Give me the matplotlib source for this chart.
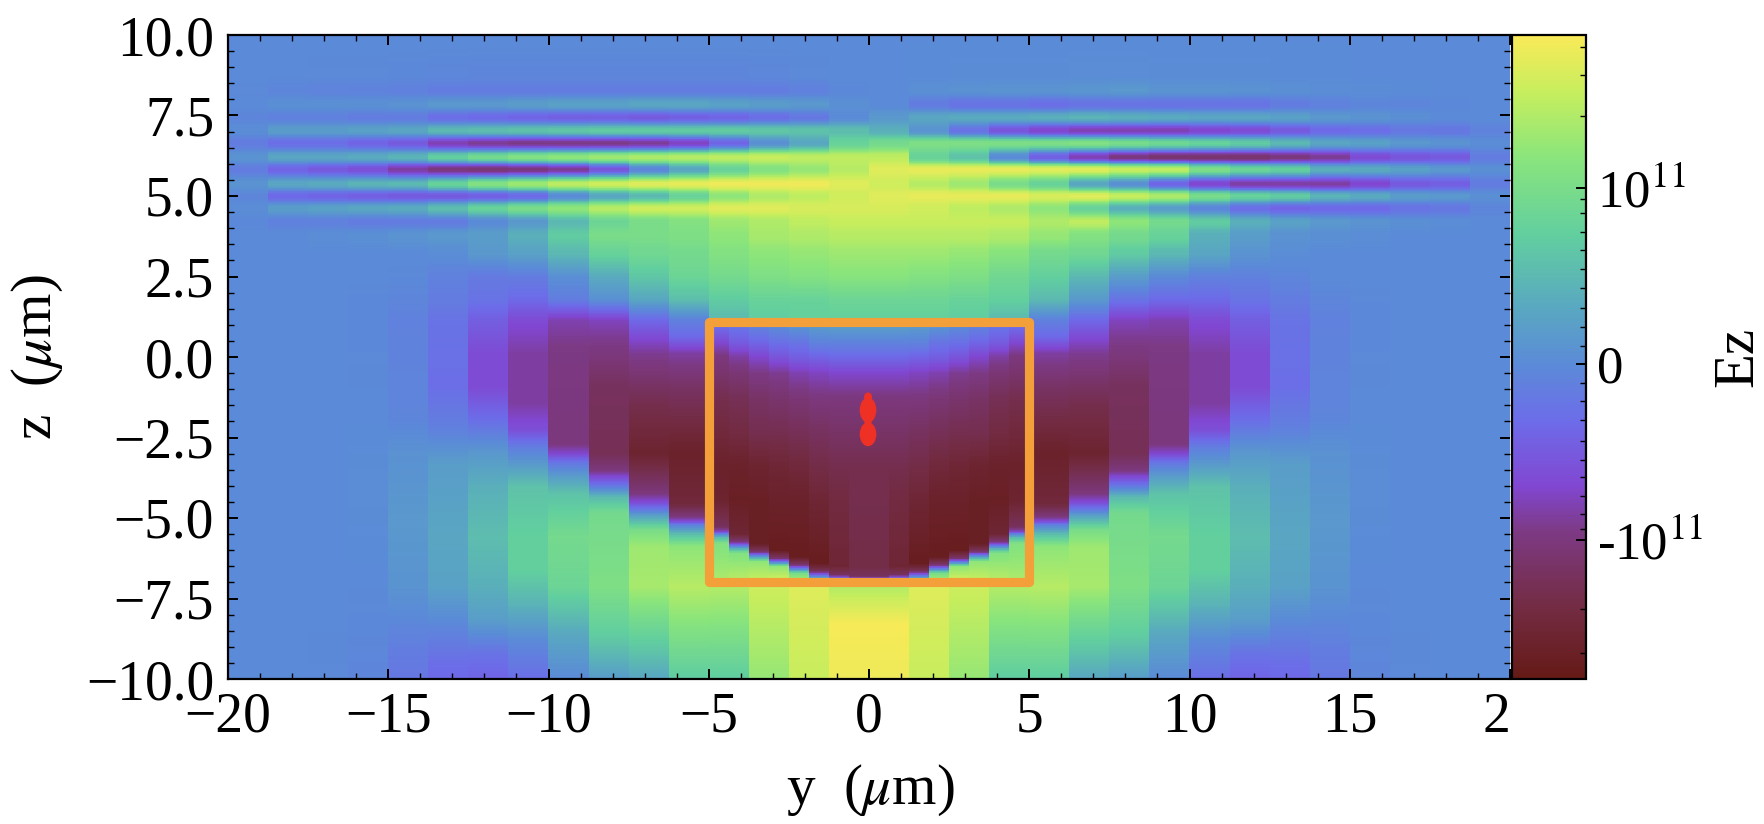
import numpy as np
import matplotlib
matplotlib.use("Agg")
import matplotlib.pyplot as plt
from matplotlib.colors import LinearSegmentedColormap, Normalize
from matplotlib.patches import Ellipse, Rectangle

plt.rcParams['font.family'] = ['Liberation Serif', 'DejaVu Serif']
plt.rcParams['mathtext.fontset'] = 'stix'

# All field values are in units of 1e10.
VMIN, VMAX = -17.9, 18.7

# ---- upper field: 32 columns, 1.25 um wide, from y=-20 to y=20, one row per z
top_z = [10, 8.7, 8.29, 7.83, 7.44, 7.03, 6.64, 6.2, 5.83, 5.37, 5.0, 4.62, 4.2, 3.78, 3.2, 2.5, 1.77]
row_z10_00 = [0, 0, 0, 0, 0, 0, 0, 0, 0, 0, 0, 0, 0, 0, 0, 0, 0, 0, 0, 0, 0, 0, 0, 0, 0, 0, 0, 0, 0, 0, 0, 0]
row_z8_70 = [0, -.1, -.2, -.2, -.3, -.4, -.5, -.5, -.5, -.5, -.5, -.5, -.5, -.4, -.2, 0, 0, .1, .2, .2, .2, .3, .3, .2, .2, .2, .1, .1, 0, 0, 0, 0]
row_z8_29 = [-.2, -.5, -.7, -.8, -1, -1.5, -1.5, -1.5, -1.5, -1.5, -1.5, -1.5, -1.5, -1.5, -1, -.3, 0, .5, .8, 1, 1, 1.2, 1.5, 1, 1, .8, .5, .3, .2, .1, 0, 0]
row_z7_83 = [0, .5, .5, .5, .8, 1.5, 1.5, 2, 2.5, 2.5, 3, 3, 2.5, 2, 1.5, .5, 0, -1.5, -2.5, -2.5, -3, -2.5, -2.5, -2.5, -2.5, -2.5, -1.5, -1, -.5, -.5, -.3, 0]
row_z7_44 = [-.5, -1, -1, -1.5, -1.5, -3, -3.5, -4, -4.5, -4.5, -5, -4.5, -4, -3, -2, 0, 1.5, 3, 3.5, 3.5, 4, 4.5, 4, 3.5, 3, 3, 2.5, 1.5, 1, .5, 0, 0]
row_z7_03 = [.3, 2, 2, 2.5, 3, 5, 5.5, 6, 6.5, 7, 7, 7, 7, 6.5, 6, 5.5, 4, 1, -2.5, -5.5, -7, -8, -8, -8, -7, -6.5, -5, -3.5, -3, -2, -2, -.8]
row_z6_64 = [-1.5, -3, -3, -4, -5, -8, -9, -9.5, -9.5, -9.5, -9, -7.5, -4, .5, 3, 8, 9.5, 10.5, 10.5, 10.5, 10.5, 11, 10, 9, 8, 7, 5, 3, 2.5, 1.5, 1, .3]
row_z6_20 = [1, 3, 3, 3.5, 4.5, 7.5, 9.5, 11, 12, 13, 14, 14.5, 15, 15.5, 15, 15, 15, 8, 6, 0, -4.5, -8, -10, -11, -11, -11, -10, -9, -6.5, -5.5, -5, -1.5]
row_z5_83 = [-1.5, -4, -5, -6, -8.5, -10, -10.5, -10, -9, -5.5, -.5, 3, 8, 11, 12.5, 14.5, 17, 17.5, 17.5, 17.5, 17, 17, 15.5, 15, 10.5, 8.5, 7.5, 4, 3.5, 2.5, 1.5, .5]
row_z5_37 = [1, 3, 3.5, 4.5, 5, 8, 11, 13, 15, 16, 17, 17.5, 18, 18, 18, 17, 16, 14.5, 13, 10, 8, 3, .5, -4, -7, -8.5, -8.5, -8.5, -7, -5, -4.5, -1.5]
row_z5_00 = [-.5, -3.5, -4, -4.5, -5, -5, -4.5, -3.5, 0, 3, 5, 8, 12, 14, 15, 16, 17, 17.5, 17.5, 17.5, 16.5, 17, 15.5, 14, 10, 8, 7, 4.5, 3.5, 2, 1.5, .5]
row_z4_62 = [.3, 2, 2.5, 3, 3.5, 5.5, 8, 10, 12, 14.5, 16, 16, 17, 17, 16.5, 16.5, 16.5, 16, 15, 14, 12, 8, 4, 2, -.5, -3, -4, -3.5, -3.5, -2.5, -2, -.5]
row_z4_20 = [-.3, -1, -1, -1.5, -1.5, -1.5, 0, 1.5, 5, 8.5, 10, 11, 13, 14, 15, 15.5, 15.5, 15.5, 15.5, 15.5, 14, 15, 12, 9.5, 7, 4, 2.5, 1.5, 1, .5, .3, 0]
row_z3_78 = [0, 0, .3, .5, 1, 1.5, 2, 4, 7, 10, 10, 10.5, 12, 13.5, 14, 14.5, 14.5, 14.5, 14.5, 14, 12.5, 11, 9.5, 8, 4, 2, .8, .5, .3, 0, 0, 0]
row_z3_20 = [0, 0, 0, 0, 0, .3, 1.5, 2.5, 5, 8, 9, 9.5, 11, 12, 12.5, 13, 13, 13, 12.5, 11.5, 9.5, 9, 7, 5, 3, 1, .3, 0, 0, 0, 0, 0]
row_z2_50 = [0, 0, 0, 0, -.2, -1, -1.8, -1.5, .5, 3.5, 6.5, 8.5, 9.5, 10.5, 11, 11.5, 11.5, 11, 10.5, 9, 7.5, 5, 2, 0, -1, -1, -.5, 0, 0, 0, 0, 0]
row_z1_77 = [0, 0, 0, -.3, -.5, -1.5, -2.5, -3.5, -1.5, .5, 3, 5.5, 7, 8, 8, 8.5, 8.5, 8.5, 8, 7.5, 5, 1.5, -2.5, -3.5, -3.5, -2.5, -1.5, -.5, -.2, 0, 0, 0]
top_rows = [row_z10_00, row_z8_70, row_z8_29, row_z7_83, row_z7_44, row_z7_03, row_z6_64, row_z6_20,
            row_z5_83, row_z5_37, row_z5_00, row_z4_62, row_z4_20, row_z3_78, row_z3_20, row_z2_50, row_z1_77]

# ---- lower field, left half: (z knots, values) for each outer column
low_c00 = ([1.15, -10], [0, 0])
low_c01 = ([1.15, -10], [0, -.1])
low_c02 = ([1.15, -7, -10], [-.1, 0, -.2])
low_c03 = ([1.15, -2, -4, -6.5, -10], [-.3, 0, .3, 0, -.5])
low_c04 = ([1.15, -1.96, -3, -5.06, -7.13, -9.2, -9.98], [-1, -.5, .8, 1.5, 1, -1.5, -2])
low_c05 = ([1.15, -.92, -2.27, -3.3, -5.58, -7.13, -8.17, -9.51, -9.98], [-2.5, -3, -1, 2, 3, 2.5, 0, -3, -3.5])
low_c06 = ([1.15, .11, -.92, -1.96, -2.99, -4.03, -5.58, -7.13, -8.17, -9.2, -9.98], [-4.5, -6.5, -6.5, -3, 1.5, 4, 5.5, 4, 2, -2.5, -4])
low_c07 = ([1.15, .11, -1.44, -2.27, -2.78, -3.3, -4.03, -5.58, -6.61, -7.65, -8.79, -9.98], [-6.5, -8.5, -8.5, -6, -1.5, 1.5, 6, 7.5, 7.5, 4.5, 0, -3])
low_c08 = ([1.15, .32, -1.96, -2.68, -2.99, -3.3, -3.72, -4.23, -5.58, -7.13, -8.68, -9.98], [-8, -9.5, -10, -10, -7, -2, 2, 6, 9.5, 8.5, 3, 0])
low_c09 = ([1.15, .63, -.92, -2.99, -3.51, -3.77, -4.03, -4.34, -4.85, -7.13, -8.68, -9.98], [-7.5, -9, -12, -12.5, -10, -6, -1.5, 5, 9.5, 10.5, 7, 2])
low_c10 = ([1.15, .63, .11, -1.44, -2.99, -4.23, -4.54, -4.75, -4.96, -5.37, -5.89, -7.13, -8.17, -9.2, -9.98], [-3.5, -6.5, -9, -13, -15.5, -10, -6, -1.5, 3, 10, 13, 13.5, 9.5, 6, 3])
low_c11 = ([1.15, .63, .11, -.92, -2.99, -4.54, -4.96, -5.11, -5.22, -5.48, -5.89, -7.13, -9.2, -9.98], [-1, -3.5, -8.5, -11.5, -16, -14.5, -10, -6, -1, 5, 12, 14.5, 9, 7])
low_c12 = ([1.15, -7.05, -9.98], [5, 14.5, 7])
low_c13 = ([1.15, -7.05, -9.98], [7, 16, 12.5])
low_c14 = ([1.15, -7.05, -9.98], [7.5, 17, 15.5])
low_c15 = ([1.15, -7.05, -7.6, -8.3, -9.98], [7.5, 14, 16, 18.5, 18])
low_left = [low_c00, low_c01, low_c02, low_c03, low_c04, low_c05, low_c06, low_c07,
            low_c08, low_c09, low_c10, low_c11, low_c12, low_c13, low_c14, low_c15]

# ---- finer field inside the box: 8 columns 0.625 um wide on the left half
fine_z = [1.1, .42, 0, -.5, -1.3, -2.4, -3.4, -4.44]
fine_z1_10 = [-2, -1.5, 0, 1, 2, 2.5, 3, 3]
fine_z0_42 = [-7, -5, -4, -3, -2.5, -1, -1, -1]
fine_z0_00 = [-10, -8.5, -7, -5.5, -4.5, -4, -3.5, -3.5]
fine_zm0_5 = [-11, -10.5, -9.5, -9, -8, -7.5, -7, -7]
fine_zm1_3 = [-13, -12.5, -11.5, -11, -10.5, -10, -10, -10]
fine_zm2_4 = [-14.5, -14, -13, -13, -12.5, -12, -11.5, -11.5]
fine_zm3_4 = [-16, -16, -15.5, -15, -14.5, -13.5, -13, -13]
fine_zm4_4 = [-15.5, -16.5, -16.5, -16, -16, -15, -14, -13]
fine_rows = [fine_z1_10, fine_z0_42, fine_z0_00, fine_zm0_5, fine_zm1_3, fine_zm2_4, fine_zm3_4, fine_zm4_4]
front_f0 = ([-5.27, -5.42, -5.5, -5.6, -5.8, -7], [-12, -7, -1, 5, 11, 14])
front_f1 = ([-5.5, -5.75, -5.85, -5.95, -6.1, -7], [-15, -10, -3, 4, 11, 15])
front_f2 = ([-5.8, -6.05, -6.13, -6.22, -6.35, -7], [-16.5, -11, -4, 3, 12, 16])
front_f3 = ([-6.0, -6.25, -6.33, -6.42, -6.5, -7], [-17, -11, -4, 3, 12, 17])
front_f4 = ([-6.2, -6.45, -6.55, -6.63, -6.72, -7], [-17, -11, -3, 3, 10, 15])
front_f5 = ([-6.4, -6.65, -6.75, -6.82, -6.9, -7], [-17, -12, -5, 0, 5, 10])
front_f6 = ([-6.5, -6.75, -6.85, -6.9, -7], [-15, -12, -5, -2, 1])
front_f7 = ([-6.5, -6.8, -6.88, -6.93, -7], [-13.5, -12, -6, -3, 0])
fronts = [front_f0, front_f1, front_f2, front_f3, front_f4, front_f5, front_f6, front_f7]

# ---- annotations
box_y, box_z, box_w, box_h = -5.0, -7.0, 10.0, 8.1
blob_y = [-.03, -.03, -.03, -.03]
blob_z = [-1.65, -2.4, -2.02, -1.25]
blob_w = [.52, .52, .22, .25]
blob_h = [.78, .74, .4, .3]

# ---- colour scale
cmap_pos = [0, .12, .23, .30, .40, .489, .58, .69, .81, .91, 1]
cmap_hex = ['#651a15', '#742d47', '#7d3a85', '#8147d2', '#6d6ce9', '#5b8bd8',
            '#59a9c0', '#62cf9f', '#8ae57c', '#c6ee5e', '#faea58']
cbar_major = [-10, 0, 10]
cbar_labels = ['-10$^{11}$', '0', '10$^{11}$']
cbar_minor = [18.0, 16.4, 14.1, 9.4, 8.6, 7.5, 6.5, 5.4, 4.3, 3.2, 2.1, 1.05, -1.05, -2.1, -3.2, -4.35,
              -5.45, -6.4, -7.5, -8.55, -9.4, -13.9, -16.4]
x_ticks = [-20, -15, -10, -5, 0, 5, 10, 15, 20]
x_labels = ['\u221220', '\u221215', '\u221210', '\u22125', '0', '5', '10', '15', '2']
z_ticks = [-10, -7.5, -5, -2.5, 0, 2.5, 5, 7.5, 10]
z_labels = ['\u221210.0', '\u22127.5', '\u22125.0', '\u22122.5', '0.0', '2.5', '5.0', '7.5', '10.0']

# ---- raster for display: each column's profile laid on a fine z axis
z_axis = np.linspace(-10, 10, 1001)
z_axis = (z_axis[:-1] + z_axis[1:]) / 2
field = np.zeros((z_axis.size, 64))
top_arr = np.array(top_rows, dtype=float)


def eased(z, zs, vs):
    """Rounded blend between neighbouring knots, as the source image's smooth bands show."""
    pos = np.interp(z, zs, np.arange(len(zs)))
    i = np.minimum(pos.astype(int), len(zs) - 2)
    f = pos - i
    f = .5 - .5 * np.cos(np.pi * f)
    return vs[i] * (1 - f) + vs[i + 1] * f


for i in range(32):
    lz, lv = low_left[i if i < 16 else 31 - i]
    zs = np.array(list(lz)[::-1] + top_z[::-1])
    vs = np.array(list(lv)[::-1] + list(top_arr[:, i])[::-1])
    prof = np.interp(z_axis, zs, vs)
    band = z_axis > 3.2
    prof[band] = eased(z_axis[band], zs, vs)
    field[:, 2 * i:2 * i + 2] = prof[:, None]
fine_arr = np.array(fine_rows, dtype=float)
in_box = (z_axis > box_z) & (z_axis < box_z + box_h)
for j in range(16):
    k = j if j < 8 else 15 - j
    fz, fv = fronts[k]
    zs = np.array(list(fz)[::-1] + fine_z[::-1])
    vs = np.array(list(fv)[::-1] + list(fine_arr[:, k])[::-1])
    field[in_box, 24 + j] = np.interp(z_axis[in_box], zs, vs)

W, H = 1764, 824
fig = plt.figure(figsize=(W / 100, H / 100), dpi=100)
L, R, T, B = 228, 1510, 35, 679
ax = fig.add_axes([L / W, 1 - B / H, (R - L) / W, (B - T) / H])
cmap = LinearSegmentedColormap.from_list('ez', list(zip(cmap_pos, cmap_hex)), N=1024)
norm = Normalize(VMIN, VMAX)
im = ax.imshow(field, origin='lower', extent=[-20, 20, -10, 10], aspect='auto',
               cmap=cmap, norm=norm, interpolation='nearest')

ax.add_patch(Rectangle((box_y, box_z), box_w, box_h, fill=False, edgecolor='#f4a03a',
                       linewidth=6.6, joinstyle='round', zorder=3))
for by, bz, bw, bh in zip(blob_y, blob_z, blob_w, blob_h):
    ax.add_patch(Ellipse((by, bz), bw, bh, facecolor='#ee3124', edgecolor='none', zorder=4))

ax.set_xlim(-20, 20)
ax.set_ylim(-10, 10)
ax.set_xticks(x_ticks, x_labels)
ax.set_yticks(z_ticks, z_labels)
ax.set_xticks(np.arange(-20, 20.01, 1), minor=True)
ax.set_yticks(np.arange(-10, 10.01, .5), minor=True)
ax.tick_params(which='major', direction='in', length=7.5, width=1.4, top=True, right=True,
               labelsize=40, pad=9)
ax.tick_params(which='minor', direction='in', length=4.2, width=1.0, top=True, right=True)
ax.tick_params(axis='y', which='major', pad=10)
ax.get_xticklabels()[-1].set_ha('right')
for s in ax.spines.values():
    s.set_linewidth(1.6)
ax.spines['right'].set_visible(False)

fig.text(870 / W, 1 - 790 / H, 'y  ($\\mu$m)', fontsize=41, ha='center', va='center')
fig.text(37 / W, 1 - 357 / H, 'z  ($\\mu$m)', fontsize=41, ha='center', va='center', rotation=90)

cax = fig.add_axes([1512 / W, 1 - B / H, 74 / W, (B - T) / H])
cb = fig.colorbar(im, cax=cax)
cb.outline.set_linewidth(1.6)
cax.set_yticks(cbar_major, cbar_labels)
cax.set_yticks(cbar_minor, minor=True)
cax.tick_params(which='major', direction='in', length=7.5, width=1.4, labelsize=38, pad=8, right=True)
cax.tick_params(which='minor', direction='in', length=4.2, width=1.0, right=True)
fig.text(1738 / W, 1 - 357 / H, 'Ez', fontsize=41, ha='center', va='center', rotation=90)

fig.savefig('out.png', dpi=100)
